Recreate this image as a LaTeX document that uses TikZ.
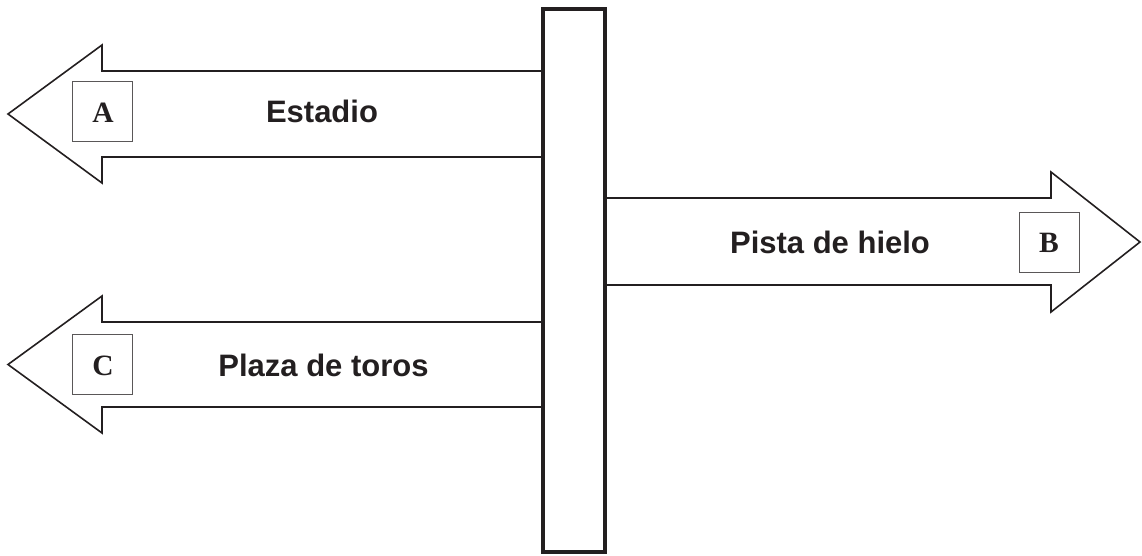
\documentclass[tikz,border=0pt]{standalone}
\usepackage{fontspec}
\setmainfont{Liberation Serif}
\newfontfamily\labelfont{Liberation Sans}
\definecolor{ink}{HTML}{231F20}
\begin{document}
\begin{tikzpicture}[x=1pt,y=-1pt,
  arrowline/.style={draw=ink,line width=1.6pt,line join=miter},
  letterbox/.style={draw=ink!75,line width=0.9pt,minimum width=60pt,minimum height=60pt,inner sep=0pt},
  lettertext/.style={font=\fontsize{29.5}{29.5}\selectfont\bfseries,text=ink,anchor=base,inner sep=0pt},
  signtext/.style={font=\labelfont\fontsize{31}{31}\selectfont\bfseries,text=ink,anchor=base,inner sep=0pt}]
\useasboundingbox (0,0) rectangle (1142,555);
% post
\node[draw=ink,line width=3.6pt,minimum width=62pt,minimum height=543pt,inner sep=0pt] (post) at (574,280.5) {};
% arrow A
\draw[arrowline] (541,71) -- (102,71) -- (102,45) -- (8,114) -- (102,183) -- (102,157) -- (541,157);
% arrow B
\draw[arrowline] (606,198) -- (1051,198) -- (1051,172) -- (1140,242) -- (1051,312) -- (1051,285) -- (606,285);
% arrow C
\draw[arrowline] (541,322) -- (102,322) -- (102,296) -- (8,364.5) -- (102,433) -- (102,407) -- (541,407);
% letter boxes
\node[letterbox] (boxA) at (102,111) {};
\node[letterbox] (boxB) at (1049,242) {};
\node[letterbox] (boxC) at (102,364.5) {};
\node[lettertext] (letA) at (103,122) {A};
\node[lettertext] (letB) at (1049,252.5) {B};
\node[lettertext] (letC) at (103,375) {C};
% labels
\node[signtext] (estadio) at (322,122) {Estadio};
\node[signtext] (pista) at (830,253) {Pista de hielo};
\node[signtext] (plaza) at (323.5,376) {Plaza de toros};
\end{tikzpicture}
\end{document}
